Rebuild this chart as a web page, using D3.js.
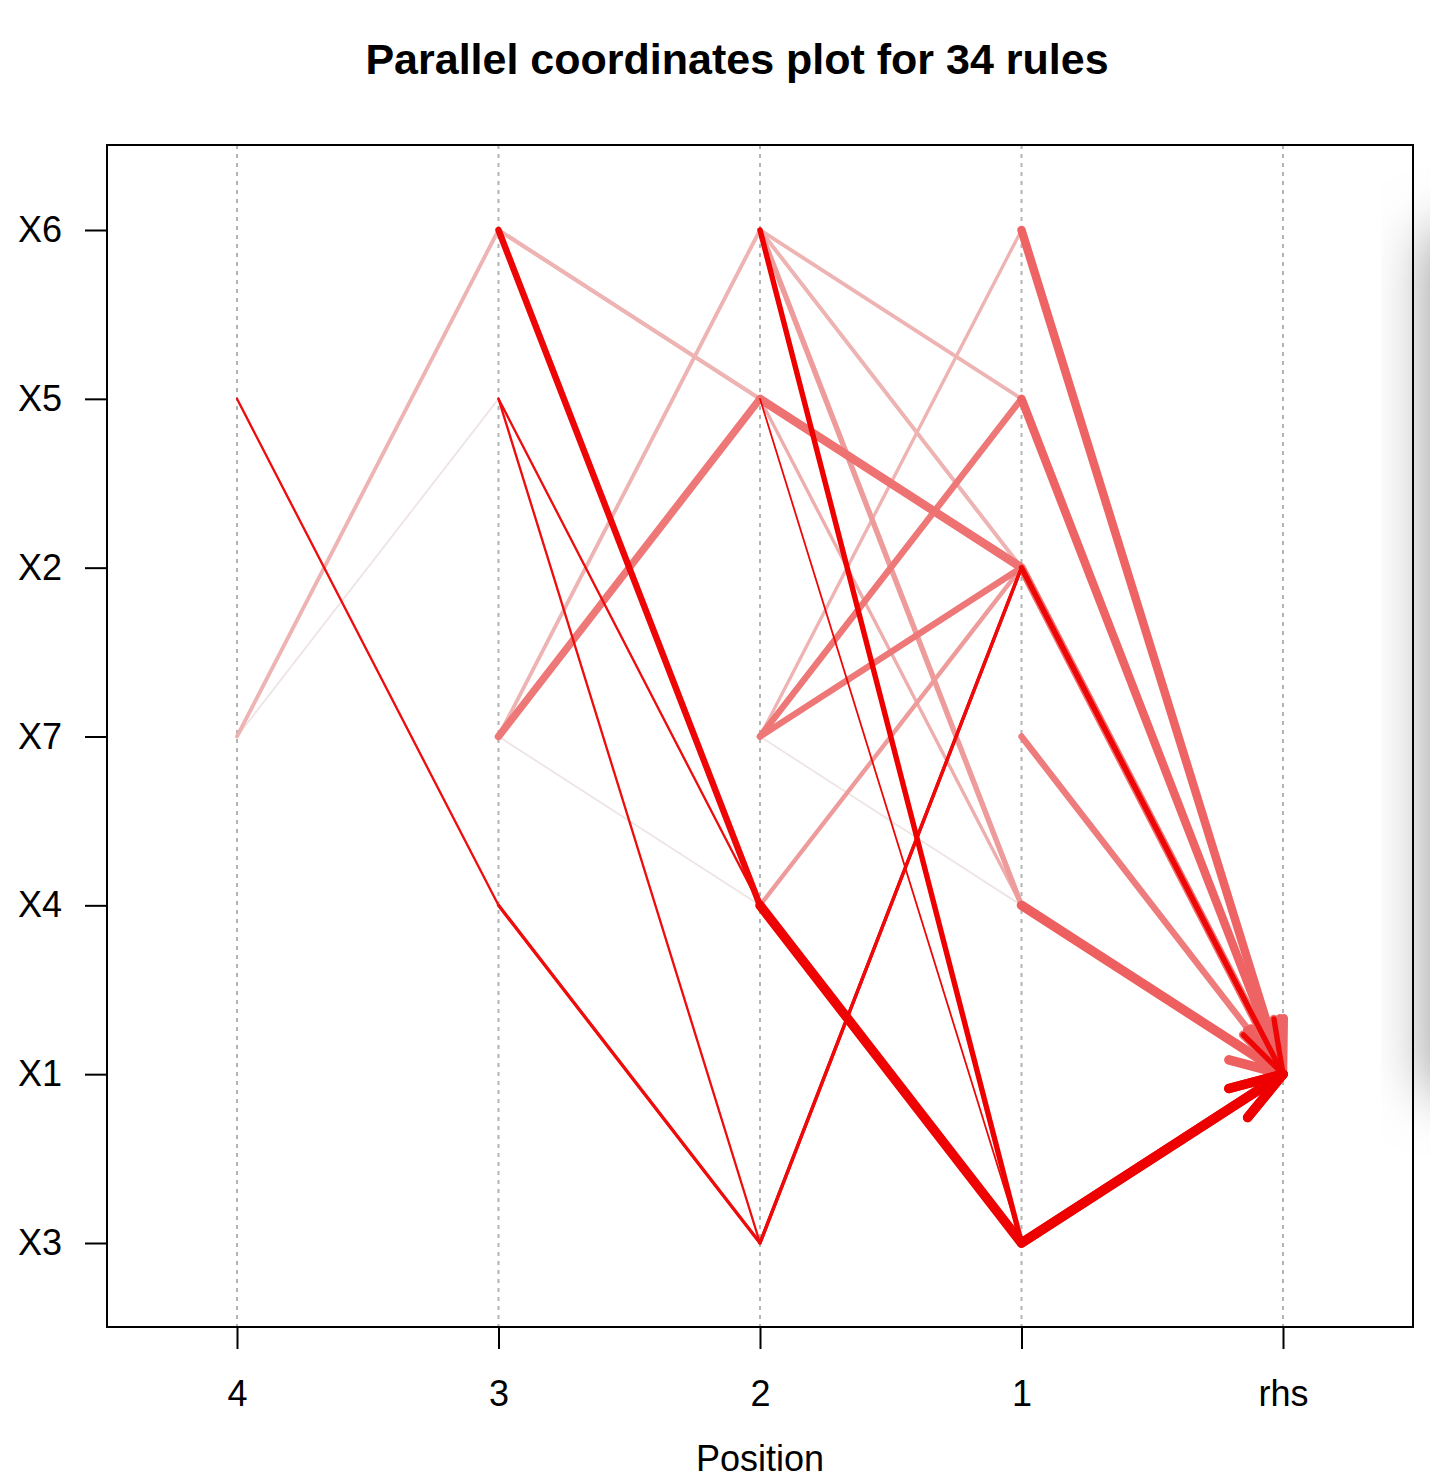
<!DOCTYPE html>
<html><head><meta charset="utf-8">
<script src="https://cdn.jsdelivr.net/npm/d3@7"></script>
<style>body{margin:0;background:#fff;} svg{display:block;font-family:"Liberation Sans",Arial,Helvetica,sans-serif;}</style>
</head><body><div id="chart"></div>
<script>
// ---- data ----
const positions = ["4", "3", "2", "1", "rhs"];
const items = ["X6", "X5", "X2", "X7", "X4", "X1", "X3"];
// LHS items at positions 4,3,2,1 (null = not used); rhs is the last entry
const rulePaths = [
  [null, null, null, "X6", "X1"],
  [null, null, null, "X5", "X1"],
  [null, null, null, "X7", "X1"],
  [null, null, null, "X4", "X1"],
  [null, null, null, "X3", "X1"],
  [null, null, null, "X2", "X1"],
  [null, null, "X6", "X5", "X1"],
  [null, null, "X6", "X3", "X1"],
  [null, null, "X6", "X4", "X1"],
  [null, null, "X6", "X2", "X1"],
  [null, null, "X5", "X2", "X1"],
  [null, null, "X5", "X3", "X1"],
  [null, null, "X5", "X4", "X1"],
  [null, null, "X7", "X6", "X1"],
  [null, null, "X7", "X5", "X1"],
  [null, null, "X7", "X2", "X1"],
  [null, null, "X7", "X4", "X1"],
  [null, null, "X4", "X2", "X1"],
  [null, null, "X4", "X3", "X1"],
  [null, null, "X3", "X2", "X1"],
  [null, "X6", "X5", "X2", "X1"],
  [null, "X6", "X4", "X3", "X1"],
  [null, "X5", "X4", "X3", "X1"],
  [null, "X5", "X3", "X2", "X1"],
  [null, "X7", "X6", "X2", "X1"],
  [null, "X7", "X5", "X2", "X1"],
  [null, "X7", "X4", "X3", "X1"],
  [null, "X4", "X3", "X2", "X1"],
  ["X5", "X4", "X3", "X2", "X1"],
  ["X7", "X6", "X5", "X2", "X1"],
  ["X7", "X5", "X4", "X3", "X1"]
];
const support = [0.080, 0.080, 0.060, 0.090, 0.090, 0.050, 0.035, 0.050, 0.050, 0.030,
                 0.080, 0.015, 0.030, 0.030, 0.060, 0.060, 0.015, 0.040, 0.090, 0.030,
                 0.035, 0.060, 0.020, 0.020, 0.035, 0.070, 0.015, 0.030, 0.020, 0.035, 0.015];
const lift =    [1.58, 1.58, 1.48, 1.60, 2.00, 1.98, 1.25, 2.00, 1.35, 1.25,
                 1.52, 1.97, 1.27, 1.25, 1.50, 1.50, 1.04, 1.35, 1.99, 1.96,
                 1.25, 1.98, 1.95, 1.95, 1.25, 1.50, 1.04, 1.95, 1.95, 1.25, 1.04];
const titleText = "Parallel coordinates plot for 34 rules";
const xLabel = "Position";

// ---- layout ----
const W = 1430, H = 1480;
const box = {x0: 107, x1: 1413, y0: 145, y1: 1327};

const svg = d3.select("#chart").append("svg").attr("width", W).attr("height", H);
svg.append("rect").attr("width", W).attr("height", H).attr("fill", "#fff");

// shadow on the right edge
const defs = svg.append("defs");
const f = defs.append("filter").attr("id", "blur").attr("x", "-50%").attr("y", "-50%").attr("width", "200%").attr("height", "200%");
f.append("feGaussianBlur").attr("stdDeviation", 28);
svg.append("rect").attr("x", 1426).attr("y", 232).attr("width", 90).attr("height", 860)
  .attr("fill", "#a0a0a0").attr("filter", "url(#blur)");

const x = d3.scalePoint().domain(positions).range([237, 1283]);
const y = d3.scalePoint().domain(items).range([230, 1243]);
const wScale = d3.scaleLinear().domain([0.015, 0.09]).range([1.8, 9.5]);
const cInterp = d3.interpolateRgb("#eeeeee", "#ee0000");
const cScale = v => cInterp(Math.max(0, Math.min(1, (v - 1.0) / 1.0)));

// vertical dotted guides
svg.append("g").selectAll("line").data(positions).join("line")
  .attr("x1", d => x(d)).attr("x2", d => x(d))
  .attr("y1", box.y0).attr("y2", box.y1)
  .attr("stroke", "#b4b4b4").attr("stroke-width", 2).attr("stroke-dasharray", "4,5");

// rules
const rules = rulePaths.map((p, i) => ({p, s: support[i], l: lift[i]}))
  .sort((a, b) => a.l - b.l);
const gR = svg.append("g").attr("fill", "none").attr("stroke-linecap", "round").attr("stroke-linejoin", "round");
const line = d3.line().x(d => x(d.pos)).y(d => y(d.item));
const arrowLen = 56, arrowAng = 18 * Math.PI / 180;
rules.forEach(r => {
  const pts = r.p.map((it, k) => it ? {pos: positions[k], item: it} : null).filter(Boolean);
  const col = cScale(r.l), w = wScale(r.s);
  gR.append("path").attr("d", line(pts)).attr("stroke", col).attr("stroke-width", w);
  const a = pts[pts.length - 2], b = pts[pts.length - 1];
  const bx = x(b.pos), by = y(b.item);
  const ang = Math.atan2(by - y(a.item), bx - x(a.pos));
  const head = [ang + Math.PI - arrowAng, ang + Math.PI + arrowAng].map(t => [bx + arrowLen * Math.cos(t), by + arrowLen * Math.sin(t)]);
  gR.append("path").attr("d", `M${head[0][0]},${head[0][1]}L${bx},${by}L${head[1][0]},${head[1][1]}`)
    .attr("stroke", col).attr("stroke-width", w);
});

// box
svg.append("rect").attr("x", box.x0).attr("y", box.y0).attr("width", box.x1 - box.x0).attr("height", box.y1 - box.y0)
  .attr("fill", "none").attr("stroke", "#000").attr("stroke-width", 2);

// axes
const yAxis = d3.axisLeft(y).tickSize(22).tickPadding(23);
const gy = svg.append("g").attr("transform", `translate(${box.x0},0)`).call(yAxis);
gy.select(".domain").remove();
gy.selectAll(".tick line").attr("stroke", "#000").attr("stroke-width", 2);
gy.selectAll(".tick text").attr("font-size", 36).attr("fill", "#000").attr("font-family", "Liberation Sans, Arial, sans-serif");

const xAxis = d3.axisBottom(x).tickSize(22).tickPadding(31);
const gx = svg.append("g").attr("transform", `translate(0,${box.y1})`).call(xAxis);
gx.select(".domain").remove();
gx.selectAll(".tick line").attr("stroke", "#000").attr("stroke-width", 2);
gx.selectAll(".tick text").attr("font-size", 36).attr("fill", "#000").attr("font-family", "Liberation Sans, Arial, sans-serif");

svg.append("text").attr("x", 760).attr("y", 1471).attr("text-anchor", "middle")
  .attr("font-size", 36).text(xLabel);
svg.append("text").attr("x", 737).attr("y", 74).attr("text-anchor", "middle")
  .attr("font-size", 43).attr("font-weight", "bold").text(titleText);
</script></body></html>
